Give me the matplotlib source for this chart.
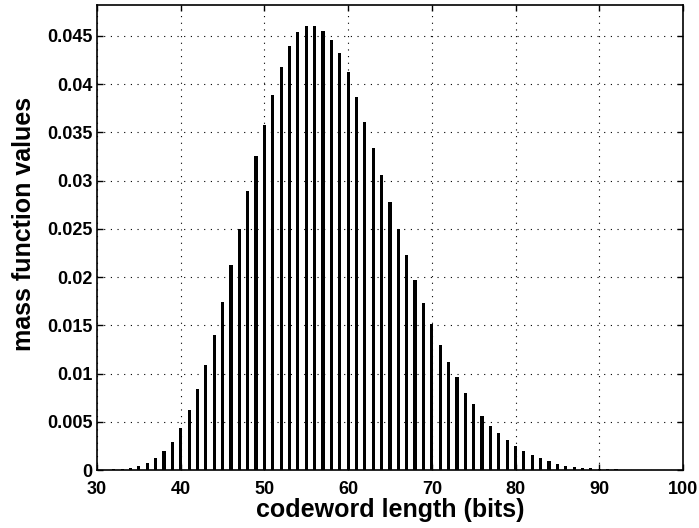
import matplotlib

matplotlib.use("Agg")
import matplotlib.pyplot as plt

# codeword lengths (bits) and their probability mass
lengths = list(range(31, 97))
mass = [
    0.00005, 0.0001, 0.00015, 0.00025, 0.0004, 0.00076, 0.00124, 0.00197, 0.0029, 0.0044,
    0.0062, 0.0084, 0.0109, 0.0140, 0.0174, 0.0212, 0.0250, 0.0289, 0.0325, 0.0358,
    0.0389, 0.0418, 0.0440, 0.0454, 0.0460, 0.0460, 0.0455, 0.0446, 0.0432, 0.0413,
    0.0387, 0.0361, 0.0334, 0.0306, 0.0278, 0.0250, 0.0223, 0.0197, 0.0173, 0.0151,
    0.0130, 0.0112, 0.0096, 0.0080, 0.0068, 0.0056, 0.0046, 0.0038, 0.0031, 0.0025,
    0.0020, 0.0016, 0.0012, 0.0009, 0.0006, 0.00045, 0.00035, 0.00025, 0.00018, 0.00015,
    0.0001, 0.00007, 0.00005, 0.00004, 0.00003, 0.00002,
]
x_ticks = [30, 40, 50, 60, 70, 80, 90, 100]
y_ticks = [0, 0.005, 0.01, 0.015, 0.02, 0.025, 0.03, 0.035, 0.04, 0.045]
y_labels = ["0", "0.005", "0.01", "0.015", "0.02", "0.025", "0.03", "0.035", "0.04", "0.045"]

plt.rcParams["font.family"] = ["Liberation Sans", "DejaVu Sans"]
plt.rcParams["font.weight"] = "bold"

fig = plt.figure(figsize=(6.99, 5.28), dpi=100)
ax = fig.add_axes([0.1388, 0.1098, 0.8382, 0.8807])

ax.bar(lengths, mass, width=0.38, color="black", linewidth=0)

ax.set_xlim(30, 100)
ax.set_ylim(0, 0.0482)
ax.set_xticks(x_ticks)
ax.set_yticks(y_ticks)
ax.set_yticklabels(y_labels)
ax.tick_params(direction="in", top=True, right=True, length=4, width=1,
               labelsize=13)
ax.tick_params(axis="x", pad=8)
ax.tick_params(axis="y", pad=3)
for lab in ax.get_xticklabels() + ax.get_yticklabels():
    lab.set_fontweight("bold")
ax.grid(True, linestyle=(0, (1, 5)), color="black", linewidth=0.8)
ax.set_axisbelow(True)
for spine in ax.spines.values():
    spine.set_linewidth(1.2)

ax.set_xlabel("codeword length (bits)", fontsize=18, fontweight="bold", labelpad=0)
ax.set_ylabel("mass function values", fontsize=18, fontweight="bold")
ax.yaxis.set_label_coords(-0.105, 0.53)

fig.savefig("out.png", dpi=100)
